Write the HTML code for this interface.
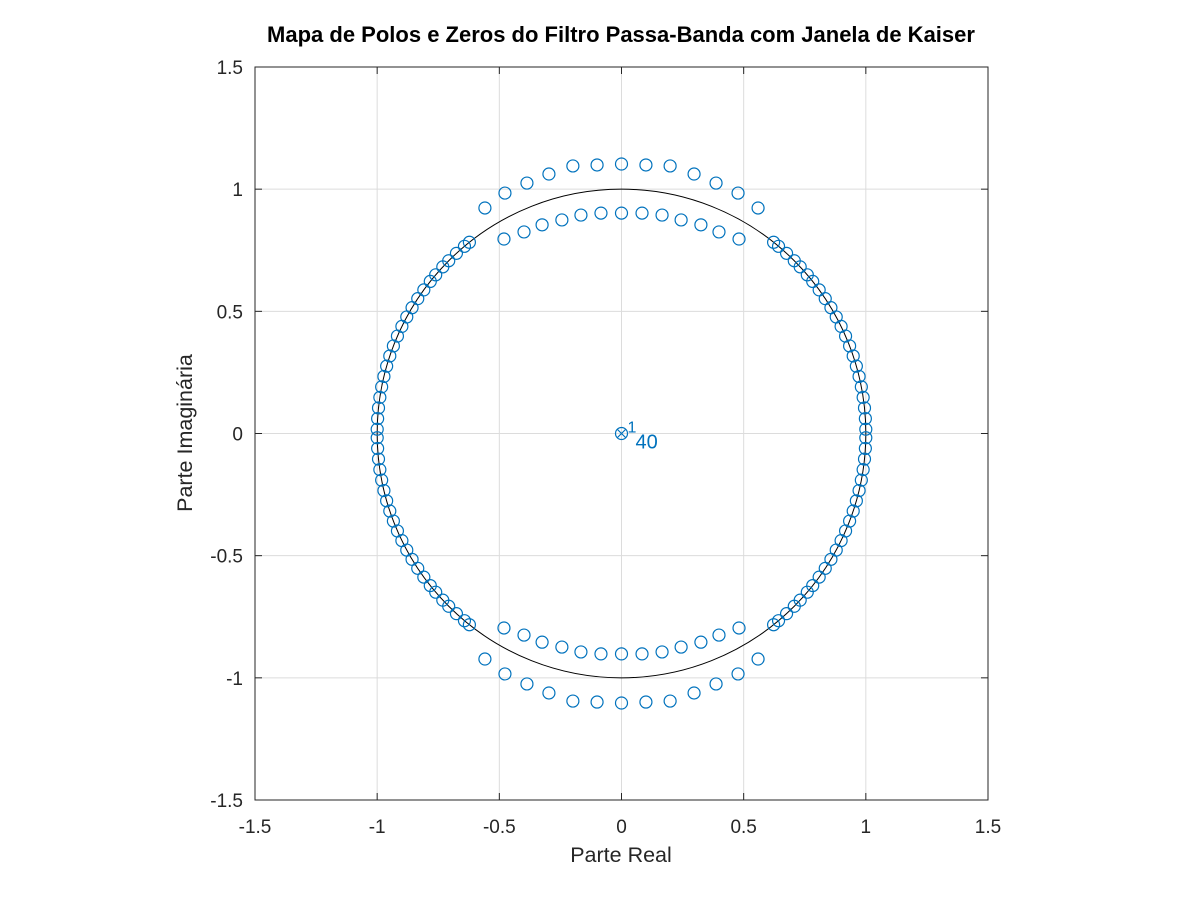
<!DOCTYPE html>
<html><head><meta charset="utf-8"><style>
html,body{margin:0;padding:0;background:#fff;}
svg{display:block;font-family:"Liberation Sans",sans-serif;}
</style></head><body>
<svg id="chart" width="1200" height="900">
<rect x="0" y="0" width="1200" height="900" fill="#fff"/>
<g id="grid"></g>
<g id="plot"></g>
<rect x="255" y="67" width="733" height="733" fill="none" stroke="#262626" stroke-width="1"/>
<g id="ticks"></g>
<text x="621" y="42" text-anchor="middle" font-size="22" font-weight="bold" fill="#000">Mapa de Polos e Zeros do Filtro Passa-Banda com Janela de Kaiser</text>
<text x="621" y="862" text-anchor="middle" font-size="21.5" fill="#262626">Parte Real</text>
<text x="192" y="433" text-anchor="middle" font-size="21.5" fill="#262626" transform="rotate(-90 192 433)">Parte Imaginária</text>
</svg>
<script>
const ticks=[-1.5,-1,-0.5,0,0.5,1,1.5];
const tickLabels=["-1.5","-1","-0.5","0","0.5","1","1.5"];
const outerRe=[-0.559,-0.477,-0.387,-0.297,-0.199,-0.100,0.0];
const outerIm=[0.923,0.984,1.025,1.062,1.095,1.099,1.103];
const innerRe=[-0.481,-0.399,-0.325,-0.244,-0.166,-0.084,0.0];
const innerIm=[0.796,0.825,0.854,0.874,0.894,0.902,0.902];
const unitAngles=[128.5,130,132.5,135,137,139.5,141.5,144,146.5,149,151.5,154,156.5,159,161.5,164,166.5,169,171.5,174,176.5,179];
const poleCount=["40"];
const originZeroCount=["1"];

const X0=255,X1=988,Y0=67,Y1=800;
const sx=v=>X0+(v+1.5)/3*(X1-X0);
const sy=v=>Y1-(v+1.5)/3*(Y1-Y0);
const NS="http://www.w3.org/2000/svg";
function mk(tag,attrs,parent){const e=document.createElementNS(NS,tag);for(const k in attrs)e.setAttribute(k,attrs[k]);parent.appendChild(e);return e;}
const grid=document.getElementById('grid'),plot=document.getElementById('plot'),tk=document.getElementById('ticks');
ticks.forEach((t,i)=>{
  let g=mk('line',{x1:sx(t),x2:sx(t),y1:Y0,y2:Y1,stroke:'#dcdcdc','stroke-width':1},grid);
  
  
  g=mk('line',{x1:X0,x2:X1,y1:sy(t),y2:sy(t),stroke:'#dcdcdc','stroke-width':1},grid);
  
  
  let l=mk('line',{x1:sx(t),x2:sx(t),y1:Y1,y2:Y1-7,stroke:'#262626'},tk);
  
  
  l=mk('line',{x1:sx(t),x2:sx(t),y1:Y0,y2:Y0+7,stroke:'#262626'},tk);
  
  
  l=mk('line',{x1:X0,x2:X0+7,y1:sy(t),y2:sy(t),stroke:'#262626'},tk);
  
  
  l=mk('line',{x1:X1,x2:X1-7,y1:sy(t),y2:sy(t),stroke:'#262626'},tk);
  
  
  let tx=mk('text',{x:sx(t),y:Y1+33,'text-anchor':'middle','font-size':19,fill:'#262626'},tk);
  tx.textContent=tickLabels[i];
  
  
  tx=mk('text',{x:X0-12,y:sy(t)+7,'text-anchor':'end','font-size':19,fill:'#262626'},tk);
  tx.textContent=tickLabels[i];
  
  
});
const uc=mk('circle',{cx:sx(0),cy:sy(0),r:sx(1)-sx(0),fill:'none',stroke:'#000','stroke-width':1},plot);


const C='#0072BD';
function zero(re,im){
  const c=mk('circle',{cx:sx(re),cy:sy(im),r:6,fill:'none',stroke:C,'stroke-width':1.2},plot);
  
  
}
function quad(re,im){zero(re,im);zero(re,-im);if(re!==0){zero(-re,im);zero(-re,-im);}}
outerRe.forEach((r,i)=>quad(r,outerIm[i]));
innerRe.forEach((r,i)=>quad(r,innerIm[i]));
unitAngles.forEach(a=>{const th=a*Math.PI/180;quad(Math.cos(th),Math.sin(th));});
zero(0,0);
const p=mk('path',{d:`M${sx(0)-4.5},${sy(0)-4.5}L${sx(0)+4.5},${sy(0)+4.5}M${sx(0)-4.5},${sy(0)+4.5}L${sx(0)+4.5},${sy(0)-4.5}`,stroke:C,'stroke-width':1.2},plot);


let t1=mk('text',{x:sx(0)+6,y:sy(0)-1,'font-size':16,fill:C},plot);
t1.textContent=originZeroCount[0];


let t2=mk('text',{x:sx(0)+14,y:sy(0)+15,'font-size':20,fill:C},plot);
t2.textContent=poleCount[0];


</script>
</body></html>
